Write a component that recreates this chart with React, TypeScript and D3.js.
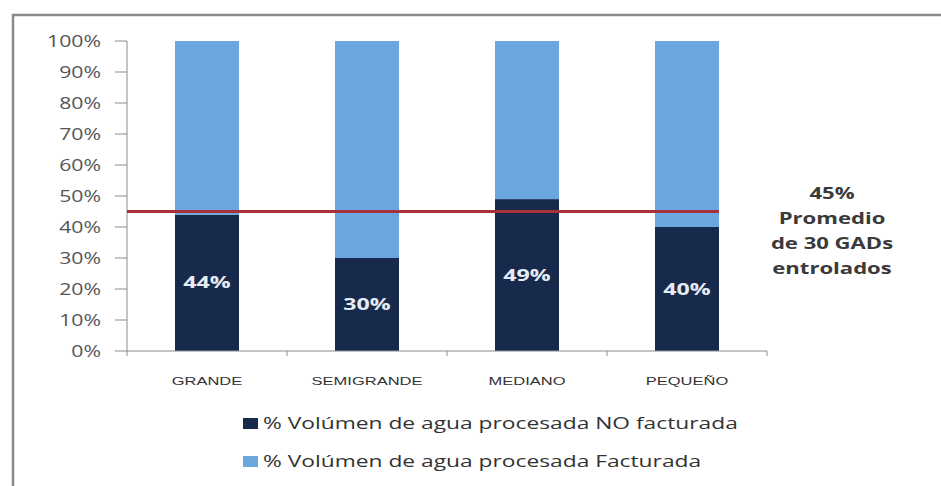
import React from "react";
import * as d3 from "d3";

const categories = ["GRANDE", "SEMIGRANDE", "MEDIANO", "PEQUEÑO"];
const noFacturada = [44, 30, 49, 40];
const facturada = [56, 70, 51, 60];
const yTicks = [0, 10, 20, 30, 40, 50, 60, 70, 80, 90, 100];
const promedio = 45;
const promedioLines = ["45%", "Promedio", "de 30 GADs", "entrolados"];
const seriesNames = [
  "% Volúmen de agua procesada NO facturada",
  "% Volúmen de agua procesada Facturada",
];
const colors = ["#172a4c", "#6ba6df"];

const font = "'Open Sans', 'DejaVu Sans', sans-serif";

function SText(props: {
  x: number; y: number; sx: number; anchor?: string; size: number; fill: string;
  weight?: string; family?: string; children: React.ReactNode;
}) {
  const { x, y, sx, anchor = "start", size, fill, weight = "normal", family = font, children } = props;
  return (
    <g transform={`translate(${x},${y}) scale(${sx},1)`}>
      <text x={0} y={0} dy="0.35em" textAnchor={anchor} fill={fill} fontFamily={family} fontWeight={weight} fontSize={size}>
        {children}
      </text>
    </g>
  );
}

export default function App() {
  const W = 941, H = 486;
  const left = 127, right = 767, top = 41, bottom = 351;
  const x = d3.scaleBand<string>().domain(categories).range([left, right]).paddingInner(0.6).paddingOuter(0.3);
  const xb = d3.scaleBand<string>().domain(categories).range([left, right]);
  const y = d3.scaleLinear().domain([0, 100]).range([bottom, top]);
  const last = categories[categories.length - 1];
  return (
    <svg width={W} height={H} style={{ position: "absolute", left: 0, top: 0, background: "#fff" }}>
      <rect x={0} y={0} width={W} height={H} fill="#fff" />
      <path d={`M13,${H + 5} V15 H${W + 5}`} fill="none" stroke="#8a8a8a" strokeWidth={2.5} />
      {/* bars */}
      {categories.map((c, i) => (
        <g key={c}>
          <rect x={x(c)} width={x.bandwidth()} y={y(noFacturada[i])} height={y(0) - y(noFacturada[i])} fill={colors[0]} />
          <rect x={x(c)} width={x.bandwidth()} y={y(noFacturada[i] + facturada[i])} height={y(noFacturada[i]) - y(noFacturada[i] + facturada[i])} fill={colors[1]} />
          <SText x={x(c)! + x.bandwidth() / 2} y={(y(0) + y(noFacturada[i])) / 2} sx={1.45} anchor="middle" fill="#e6ebf2" weight="bold" size={16}>
            {noFacturada[i]}%
          </SText>
        </g>
      ))}
      {/* y axis */}
      <line x1={left} x2={left} y1={top} y2={bottom} stroke="#8c8c8c" strokeWidth={1} />
      {yTicks.map((t) => (
        <g key={t}>
          <line x1={left - 12} x2={left} y1={y(t)} y2={y(t)} stroke="#8c8c8c" />
          <SText x={101} y={y(t)} sx={1.25} anchor="end" fill="#555" size={17}>
            {t}%
          </SText>
        </g>
      ))}
      {/* x axis */}
      <line x1={left} x2={right} y1={bottom} y2={bottom} stroke="#8c8c8c" />
      {[...categories.map((c) => xb(c)!), right].map((v, i) => (
        <line key={i} x1={v} x2={v} y1={bottom} y2={bottom + 5} stroke="#8c8c8c" />
      ))}
      {categories.map((c) => (
        <SText key={c} x={xb(c)! + xb.bandwidth() / 2} y={381} sx={1.5} anchor="middle" fill="#333" family="'Liberation Sans', Arial, sans-serif" size={11}>
          {c}
        </SText>
      ))}
      {/* average line */}
      <line x1={left} x2={x(last)! + x.bandwidth()} y1={y(promedio)} y2={y(promedio)} stroke="#a8323c" strokeWidth={3} />
      {promedioLines.map((s, i) => (
        <SText key={i} x={832} y={193 + i * 25} sx={1.38} anchor="middle" fill="#3a3a3a" weight="bold" size={16}>
          {s}
        </SText>
      ))}
      {/* legend */}
      {seriesNames.map((s, i) => (
        <g key={s}>
          <rect x={243} y={418 + i * 38} width={15} height={11} fill={colors[i]} />
          <SText x={263} y={424 + i * 38} sx={1.47} fill="#333" size={15.5}>
            {s}
          </SText>
        </g>
      ))}
    </svg>
  );
}
